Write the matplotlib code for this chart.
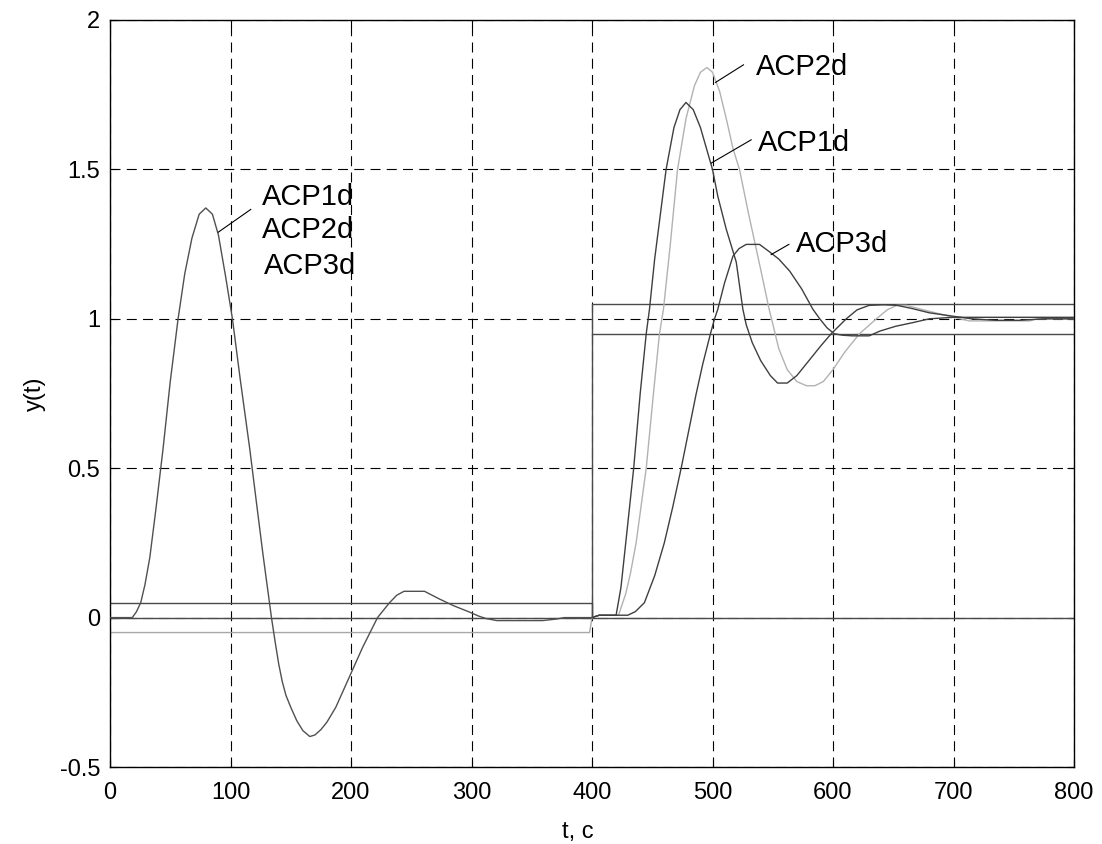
import matplotlib
matplotlib.use("Agg")
import matplotlib.pyplot as plt

plt.rcParams['font.family'] = ['Liberation Sans', 'DejaVu Sans']
plt.rcParams['lines.scale_dashes'] = False

# ---- data ----
# disturbance response (identical for ACP1d, ACP2d, ACP3d), t in 0..400
t_dist = [0, 18.5, 22, 25.5, 29, 33, 38, 44, 50, 56.5, 62, 68, 74, 79.5, 85, 90, 96,
          101.6, 108, 116, 122, 127, 131, 134, 137, 140, 143, 146, 150, 155, 160, 165.8,
          170, 175, 180, 187.4, 198.5, 209.6, 222, 232, 238, 244, 261, 273, 285, 298,
          306, 312, 321, 359, 370, 377, 400]
y_dist = [0, 0, 0.02, 0.05, 0.11, 0.2, 0.36, 0.564, 0.79, 1.0, 1.15, 1.27, 1.35, 1.371,
          1.35, 1.28, 1.14, 1.0, 0.80, 0.564, 0.37, 0.21, 0.09, 0, -0.08, -0.155, -0.215,
          -0.26, -0.3, -0.345, -0.378, -0.398, -0.393, -0.375, -0.35, -0.3, -0.2, -0.1,
          0, 0.05, 0.075, 0.088, 0.088, 0.063, 0.04, 0.019, 0.005, -0.003, -0.01, -0.01,
          -0.005, 0, 0]

# set-point step responses, t in 400..800
t_acp1 = [400, 406, 420, 424, 428, 434.6, 440, 445, 447.7, 452, 461.5, 468, 473, 478, 484,
          490, 500, 504.4, 511.4, 519.7, 525.2, 528, 533, 540, 548, 554, 562, 570, 580,
          590, 598.5, 611, 620, 630, 642, 653, 665, 680, 699, 715, 735, 755, 775, 800]
y_acp1 = [0, 0.008, 0.008, 0.1, 0.25, 0.5, 0.75, 0.95, 1.032, 1.2, 1.5, 1.64, 1.70, 1.724,
          1.70, 1.64, 1.5, 1.41, 1.30, 1.19, 1.032, 0.98, 0.92, 0.86, 0.81, 0.785,
          0.785, 0.81, 0.86, 0.91, 0.95, 1.0, 1.03, 1.045, 1.047, 1.045, 1.035, 1.02,
          1.009, 1.0, 0.995, 0.995, 1.0, 1.0]

t_acp2 = [400, 406, 422, 428, 432, 436.6, 445, 451, 456, 459.3, 465, 471, 478, 485, 490,
          495.3, 500, 506, 512, 517, 522.4, 530, 540, 547, 549, 555, 562, 570, 578, 585,
          592, 600, 610, 622, 636, 645, 653, 661, 675, 694, 713, 763, 770, 800]
y_acp2 = [0, 0.008, 0.008, 0.08, 0.15, 0.25, 0.5, 0.75, 0.95, 1.032, 1.25, 1.5, 1.67, 1.78,
          1.825, 1.841, 1.825, 1.76, 1.66, 1.57, 1.5, 1.35, 1.165, 1.032, 1.0, 0.9, 0.83,
          0.79, 0.776, 0.776, 0.79, 0.83, 0.89, 0.95, 1.0, 1.03, 1.045, 1.045, 1.03,
          1.011, 0.993, 0.993, 1.0, 1.0]

t_acp3 = [400, 406, 429.7, 436, 443.5, 452, 460, 467, 474, 480, 486.5, 492, 498.3, 501.7,
          504.4, 510, 517, 522, 528, 539, 547, 555, 564, 574, 583.3, 589, 595, 601, 608,
          616, 630, 639, 652, 666, 680, 700, 800]
y_acp3 = [0, 0.008, 0.008, 0.02, 0.05, 0.14, 0.25, 0.37, 0.5, 0.62, 0.75, 0.85, 0.95, 1.0,
          1.032, 1.12, 1.21, 1.235, 1.249, 1.249, 1.225, 1.2, 1.16, 1.1, 1.032, 1.0,
          0.97, 0.95, 0.945, 0.943, 0.943, 0.959, 0.975, 0.987, 1.0, 1.005, 1.005]

# tolerance bands and reference lines
t_upper = [0, 400, 400, 400, 800]
y_upper = [0.05, 0.05, 0.0, 1.05, 1.05]
t_lower_left = [0, 398, 400]
y_lower_left = [-0.05, -0.05, 0.0]
t_lower_right = [400, 800]
y_lower_right = [0.95, 0.95]
t_zero = [0, 800]
y_zero = [0, 0]

x_ticks = [0, 100, 200, 300, 400, 500, 600, 700, 800]
y_ticks = [-0.5, 0, 0.5, 1, 1.5, 2]
y_tick_labels = ['-0.5', '0', '0.5', '1', '1.5', '2']

# ---- figure ----
fig = plt.figure(figsize=(11.02, 8.44), dpi=100)
ax = fig.add_axes([110 / 1102, 77 / 844, 964 / 1102, 747 / 844])

dark = '#3f3f3f'
band = '#4a4a4a'
light = '#b2b2b2'

ax.plot(t_zero, y_zero, color=band, lw=1.0, zorder=2)
ax.plot(t_upper, y_upper, color=band, lw=1.0, zorder=2)
ax.plot(t_lower_left, y_lower_left, color='#a8a8a8', lw=1.0, zorder=2)
ax.plot(t_lower_right, y_lower_right, color=band, lw=1.0, zorder=2)

ax.plot(t_acp2, y_acp2, color=light, lw=1.0, zorder=3)
ax.plot(t_acp3, y_acp3, color=dark, lw=1.0, zorder=4)
ax.plot(t_acp1, y_acp1, color=dark, lw=1.0, zorder=4)
ax.plot(t_dist, y_dist, color='#505050', lw=1.0, zorder=4)

ax.set_xlim(0, 800)
ax.set_ylim(-0.5, 2)
ax.set_xticks(x_ticks)
ax.set_yticks(y_ticks)
ax.set_yticklabels(y_tick_labels)

ax.grid(True, color='black', linestyle=(0, (7.2, 4.5)), linewidth=0.8)
ax.set_axisbelow(True)
for s in ax.spines.values():
    s.set_linewidth(1.0)
    s.set_color('black')

ax.tick_params(axis='both', direction='in', length=5, width=0.8,
               top=True, right=True, labelsize=17)
ax.tick_params(axis='x', pad=11)
ax.tick_params(axis='y', pad=7)

ax.set_xlabel('t, c', fontsize=17)
ax.xaxis.set_label_coords(0.485, -0.072)
ax.set_ylabel('y(t)', fontsize=17, labelpad=10)

# annotations
fs = 21
ax.text(126.2, 1.382, 'ACP1d', fontsize=fs, ha='left', va='baseline')
ax.text(126.2, 1.272, 'ACP2d', fontsize=fs, ha='left', va='baseline')
ax.text(127.9, 1.149, 'ACP3d', fontsize=fs, ha='left', va='baseline')
ax.plot([116.8, 89.9], [1.366, 1.290], color='black', lw=0.8, zorder=5)

ax.text(536.3, 1.816, 'ACP2d', fontsize=fs, ha='left', va='baseline')
ax.plot([525.7, 502.5], [1.850, 1.791], color='black', lw=0.8, zorder=5)
ax.text(537.6, 1.560, 'ACP1d', fontsize=fs, ha='left', va='baseline')
ax.plot([532.1, 498.9], [1.599, 1.521], color='black', lw=0.8, zorder=5)
ax.text(569.5, 1.222, 'ACP3d', fontsize=fs, ha='left', va='baseline')
ax.plot([563.4, 548.7], [1.249, 1.215], color='black', lw=0.8, zorder=5)

fig.savefig('out.png', dpi=100)
